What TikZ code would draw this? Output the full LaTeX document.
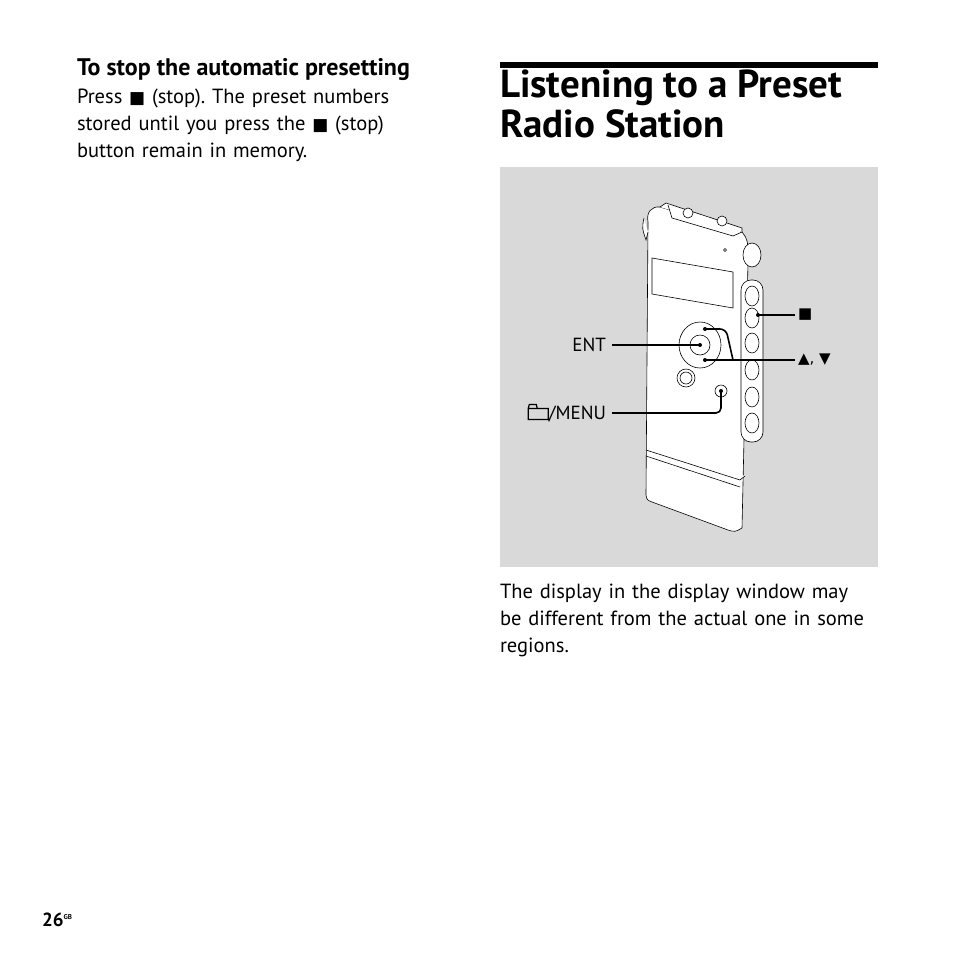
\documentclass[tikz,border=0pt]{standalone}
\usepackage{fontspec}
\setmainfont{PT Sans}
\newfontfamily\symfont{DejaVu Sans}
\definecolor{panelgray}{RGB}{217, 217, 217}
\usetikzlibrary{positioning}
\newcommand{\foldericon}{\tikz[baseline=0pt, x=1pt, y=1pt, line width=1.2pt]
    \draw (0,0) rectangle (20,11) (0,11) -- (1,15) -- (8,15) -- (9,11);}
\begin{document}
\frenchspacing
\begin{tikzpicture}[
        x=1pt, y=-1pt,
        every node/.style={inner sep=0pt, outer sep=0pt},
        bodytext/.style={font=\fontsize{20.5}{27}\selectfont, align=left, anchor=north west},
        callout/.style={font=\fontsize{19}{22}\selectfont},
        part/.style={draw=black, line width=0.6pt, fill=white},
        leader/.style={line width=1.6pt},
        dot/.style={circle, fill=black, minimum size=4pt}
    ]
        \useasboundingbox (0,0) rectangle (954,954);

        % Left column
        \node[bodytext, font=\bfseries\fontsize{24}{27}\selectfont] (stophead) at (77,58) {To stop the automatic presetting};
        \node[bodytext, text width=380pt] (stoptext) at (77,89) {Press {\symfont\fontsize{17}{20}\selectfont ■} (stop). The preset numbers\\stored until you press the {\symfont\fontsize{17}{20}\selectfont ■} (stop)\\button remain in memory.};

        % Title
        \fill (500,62) rectangle (878,68);
        \node[bodytext, font=\bfseries\fontsize{39}{40}\selectfont] (title) at (500,70) {Listening to a Preset\\Radio Station};

        % Panel
        \fill[panelgray] (500,167) rectangle (878,567);

        % Recorder body
        \draw[part] (648,222) .. controls (646,212) and (652,206) .. (660,207) -- (742,232)
            .. controls (748,240) .. (748,262) -- (742,528) .. controls (735,532) .. (728,530)
            -- (652,502) .. controls (647,500) .. (646,495) -- cycle;
        \draw[part] (660,207) -- (666,203) -- (742,228) -- (742,232);
        \draw[part] (668,205) -- (672,218) -- (733,236) -- (742,232);
        \draw[part] (644,218) .. controls (642,228) .. (646,240) -- (648,232);
        \draw[part] (688,213) circle (5);
        \draw[part] (722,221) circle (5);
        \draw[part] (725,250) circle (1.5);
        \draw[part] (752,255) ellipse (9 and 12);
        \draw[part] (652,258) -- (733,272) -- (733,308) -- (652,294) -- cycle;
        \draw[part, rounded corners=10pt] (741,280) rectangle (763,442);
        \foreach \y in {296,318,343,370,397,423}
            \draw[part] (752,\y) ellipse (7 and 10);
        \draw[part] (646,450) -- (740,480) -- (745,476);
        \draw[part] (646,456) -- (740,487);
        \draw[part] (700,345) ellipse (21 and 23);
        \draw[part] (700,345) circle (10);
        \draw[part] (686,378) circle (9);
        \draw[part] (686,378) circle (6);
        \draw[part] (721,391) circle (6);

        % Callouts
        \node[callout, anchor=east] (ent) at (606,345) {ENT};
        \node[callout, anchor=west] (stop) at (798,315) {\symfont\fontsize{15}{18}\selectfont ■};
        \node[callout, anchor=west] (updown) at (798,360) {\symfont\fontsize{15}{18}\selectfont ▲, ▼};
        \node[callout, anchor=east] (menu) at (606,413) {\foldericon/MENU};
        \node[dot] (entbtn) at (700,345) {};
        \node[dot] (stopbtn) at (758,315) {};
        \node[dot] (upbtn) at (705,329) {};
        \node[dot] (downbtn) at (705,360) {};
        \node[dot] (menubtn) at (721,391) {};

        \draw[leader] (ent.east) ++(6,0) -- (entbtn.center);
        \draw[leader] (stopbtn.center) -- ([xshift=-3pt]stop.west);
        \draw[leader] (downbtn.center) -- ([xshift=-3pt]updown.west);
        \draw[leader, rounded corners=6pt] (upbtn.center) -- (726,329) -- (733,360);
        \draw[leader, rounded corners=5pt] (menu.east) ++(6,0) -- (721,413) -- (menubtn.center);

        % Caption
        \node[bodytext, text width=400pt] (caption) at (500,584) {The display in the display window may\\be different from the actual one in some\\regions.};

        % Page number
        \node[font=\bfseries\fontsize{19}{20}\selectfont, anchor=west] (page) at (42,920) {26\raisebox{7pt}{\fontsize{7}{8}\selectfont GB}};
    \end{tikzpicture}
\end{document}
